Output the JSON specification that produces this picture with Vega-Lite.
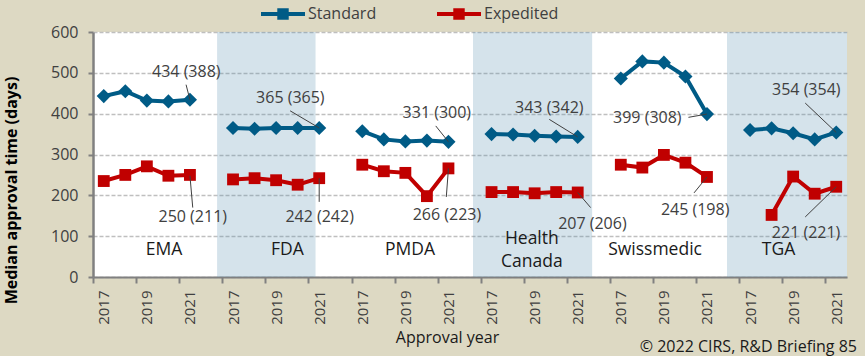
{
  "$schema": "https://vega.github.io/schema/vega-lite/v6.json",
  "width": 754,
  "height": 245,
  "autosize": {"type": "none"},
  "padding": {"left": 93, "top": 32, "right": 18, "bottom": 79},
  "background": "#DDD9C3",
  "config": {
    "view": {"fill": "white", "stroke": null},
    "font": "Open Sans",
    "text": {"font": "Open Sans"},
    "axis": {"labelOverlap": false},
    "axisX": {"labelOverlap": false},
    "axisQuantitative": {"labelOverlap": false}
  },
  "title": {
    "text": "© 2022 CIRS, R&D Briefing 85",
    "orient": "bottom",
    "anchor": "end",
    "frame": "group",
    "fontSize": 16,
    "fontWeight": "normal",
    "font": "Open Sans",
    "color": "#1a1a1a",
    "dx": 10,
    "dy": -10
  },
  "datasets": {
    "bands": [
      {"agency": "FDA", "x1": 6.26, "x2": 10.83},
      {"agency": "Health Canada", "x1": 18.14, "x2": 23.67},
      {"agency": "TGA", "x1": 29.93, "x2": 35.5}
    ],
    "main": [
      {"agency": "EMA", "year": 2017, "pos": 1, "series": "Standard", "value": 443},
      {"agency": "EMA", "year": 2018, "pos": 2, "series": "Standard", "value": 455},
      {"agency": "EMA", "year": 2019, "pos": 3, "series": "Standard", "value": 432},
      {"agency": "EMA", "year": 2020, "pos": 4, "series": "Standard", "value": 430},
      {"agency": "EMA", "year": 2021, "pos": 5, "series": "Standard", "value": 434},
      {"agency": "EMA", "year": 2017, "pos": 1, "series": "Expedited", "value": 235},
      {"agency": "EMA", "year": 2018, "pos": 2, "series": "Expedited", "value": 250},
      {"agency": "EMA", "year": 2019, "pos": 3, "series": "Expedited", "value": 271},
      {"agency": "EMA", "year": 2020, "pos": 4, "series": "Expedited", "value": 248},
      {"agency": "EMA", "year": 2021, "pos": 5, "series": "Expedited", "value": 250},
      {"agency": "FDA", "year": 2017, "pos": 7, "series": "Standard", "value": 365},
      {"agency": "FDA", "year": 2018, "pos": 8, "series": "Standard", "value": 363},
      {"agency": "FDA", "year": 2019, "pos": 9, "series": "Standard", "value": 365},
      {"agency": "FDA", "year": 2020, "pos": 10, "series": "Standard", "value": 365},
      {"agency": "FDA", "year": 2021, "pos": 11, "series": "Standard", "value": 365},
      {"agency": "FDA", "year": 2017, "pos": 7, "series": "Expedited", "value": 239},
      {"agency": "FDA", "year": 2018, "pos": 8, "series": "Expedited", "value": 242},
      {"agency": "FDA", "year": 2019, "pos": 9, "series": "Expedited", "value": 237},
      {"agency": "FDA", "year": 2020, "pos": 10, "series": "Expedited", "value": 226},
      {"agency": "FDA", "year": 2021, "pos": 11, "series": "Expedited", "value": 242},
      {"agency": "PMDA", "year": 2017, "pos": 13, "series": "Standard", "value": 357},
      {"agency": "PMDA", "year": 2018, "pos": 14, "series": "Standard", "value": 337},
      {"agency": "PMDA", "year": 2019, "pos": 15, "series": "Standard", "value": 332},
      {"agency": "PMDA", "year": 2020, "pos": 16, "series": "Standard", "value": 334},
      {"agency": "PMDA", "year": 2021, "pos": 17, "series": "Standard", "value": 331},
      {"agency": "PMDA", "year": 2017, "pos": 13, "series": "Expedited", "value": 275},
      {"agency": "PMDA", "year": 2018, "pos": 14, "series": "Expedited", "value": 259},
      {"agency": "PMDA", "year": 2019, "pos": 15, "series": "Expedited", "value": 255},
      {"agency": "PMDA", "year": 2020, "pos": 16, "series": "Expedited", "value": 198},
      {"agency": "PMDA", "year": 2021, "pos": 17, "series": "Expedited", "value": 266},
      {"agency": "Health Canada", "year": 2017, "pos": 19, "series": "Standard", "value": 350},
      {"agency": "Health Canada", "year": 2018, "pos": 20, "series": "Standard", "value": 349},
      {"agency": "Health Canada", "year": 2019, "pos": 21, "series": "Standard", "value": 346},
      {"agency": "Health Canada", "year": 2020, "pos": 22, "series": "Standard", "value": 344},
      {"agency": "Health Canada", "year": 2021, "pos": 23, "series": "Standard", "value": 343},
      {"agency": "Health Canada", "year": 2017, "pos": 19, "series": "Expedited", "value": 208},
      {"agency": "Health Canada", "year": 2018, "pos": 20, "series": "Expedited", "value": 208},
      {"agency": "Health Canada", "year": 2019, "pos": 21, "series": "Expedited", "value": 205},
      {"agency": "Health Canada", "year": 2020, "pos": 22, "series": "Expedited", "value": 208},
      {"agency": "Health Canada", "year": 2021, "pos": 23, "series": "Expedited", "value": 207},
      {"agency": "Swissmedic", "year": 2017, "pos": 25, "series": "Standard", "value": 486},
      {"agency": "Swissmedic", "year": 2018, "pos": 26, "series": "Standard", "value": 528},
      {"agency": "Swissmedic", "year": 2019, "pos": 27, "series": "Standard", "value": 525},
      {"agency": "Swissmedic", "year": 2020, "pos": 28, "series": "Standard", "value": 491},
      {"agency": "Swissmedic", "year": 2021, "pos": 29, "series": "Standard", "value": 399},
      {"agency": "Swissmedic", "year": 2017, "pos": 25, "series": "Expedited", "value": 275},
      {"agency": "Swissmedic", "year": 2018, "pos": 26, "series": "Expedited", "value": 268},
      {"agency": "Swissmedic", "year": 2019, "pos": 27, "series": "Expedited", "value": 299},
      {"agency": "Swissmedic", "year": 2020, "pos": 28, "series": "Expedited", "value": 280},
      {"agency": "Swissmedic", "year": 2021, "pos": 29, "series": "Expedited", "value": 245},
      {"agency": "TGA", "year": 2017, "pos": 31, "series": "Standard", "value": 360},
      {"agency": "TGA", "year": 2018, "pos": 32, "series": "Standard", "value": 364},
      {"agency": "TGA", "year": 2019, "pos": 33, "series": "Standard", "value": 352},
      {"agency": "TGA", "year": 2020, "pos": 34, "series": "Standard", "value": 337},
      {"agency": "TGA", "year": 2021, "pos": 35, "series": "Standard", "value": 354},
      {"agency": "TGA", "year": 2018, "pos": 32, "series": "Expedited", "value": 152},
      {"agency": "TGA", "year": 2019, "pos": 33, "series": "Expedited", "value": 246},
      {"agency": "TGA", "year": 2020, "pos": 34, "series": "Expedited", "value": 204},
      {"agency": "TGA", "year": 2021, "pos": 35, "series": "Expedited", "value": 221}
    ],
    "notes": [
      {"label": "434 (388)", "tx": 4.83, "ty": 503, "lx1": 4.82, "ly1": 471, "lx2": 5.0, "ly2": 434},
      {"label": "250 (211)", "tx": 5.13, "ty": 147, "lx1": 5.0, "ly1": 248, "lx2": 5.13, "ly2": 170},
      {"label": "365 (365)", "tx": 9.66, "ty": 438, "lx1": 9.65, "ly1": 407, "lx2": 11.0, "ly2": 365},
      {"label": "242 (242)", "tx": 11.02, "ty": 147, "lx1": 11.0, "ly1": 242, "lx2": 11.0, "ly2": 184},
      {"label": "331 (300)", "tx": 16.46, "ty": 401, "lx1": 16.41, "ly1": 370, "lx2": 17.0, "ly2": 331},
      {"label": "266 (223)", "tx": 16.93, "ty": 153, "lx1": 17.0, "ly1": 266, "lx2": 16.9, "ly2": 196},
      {"label": "343 (342)", "tx": 21.68, "ty": 415, "lx1": 21.68, "ly1": 386, "lx2": 23.0, "ly2": 343},
      {"label": "207 (206)", "tx": 23.68, "ty": 131, "lx1": 23.0, "ly1": 207, "lx2": 23.6, "ly2": 170},
      {"label": "399 (308)", "tx": 26.23, "ty": 389, "lx1": 28.14, "ly1": 391, "lx2": 29.0, "ly2": 399},
      {"label": "245 (198)", "tx": 28.45, "ty": 165, "lx1": 28.4, "ly1": 206, "lx2": 29.0, "ly2": 245},
      {"label": "354 (354)", "tx": 33.61, "ty": 457, "lx1": 33.56, "ly1": 426, "lx2": 35.0, "ly2": 354},
      {"label": "221 (221)", "tx": 33.6, "ty": 107, "lx1": 33.56, "ly1": 147, "lx2": 35.0, "ly2": 221}
    ],
    "panels": [
      {"name": "EMA", "px": 3.8, "py": 65.5},
      {"name": "FDA", "px": 9.52, "py": 65.5},
      {"name": "PMDA", "px": 15.22, "py": 65.5},
      {"name": "Health", "px": 20.87, "py": 94},
      {"name": "Canada", "px": 20.87, "py": 37},
      {"name": "Swissmedic", "px": 26.59, "py": 65.5},
      {"name": "TGA", "px": 32.32, "py": 65.5}
    ]
  },
  "layer": [
    {
      "data": {"name": "bands"},
      "mark": {"type": "rect", "fill": "#578FAF", "opacity": 0.25},
      "encoding": {
        "x": {
          "field": "x1",
          "type": "quantitative",
          "scale": {"domain": [0.5, 35.5], "nice": false, "zero": false},
          "axis": {
            "values": [0.5,1.5,2.5,3.5,4.5,5.5,6.5,7.5,8.5,9.5,10.5,11.5,12.5,13.5,14.5,15.5,16.5,17.5,18.5,19.5,20.5,21.5,22.5,23.5,24.5,25.5,26.5,27.5,28.5,29.5,30.5,31.5,32.5,33.5,34.5,35.5],
            "labelExpr": "((datum.value + 0.5) - 6 * floor((datum.value - 0.5) / 6) < 6 && datum.value < 35) ? toString(2016 + (datum.value + 0.5) - 6 * floor((datum.value - 0.5) / 6)) : ''",
            "labelOffset": 10.77,
            "labelAngle": 270,
            "labelAlign": "right",
            "labelBaseline": "middle",
            "labelFontSize": 15,
            "labelColor": "#404040",
            "labelPadding": 7,
            "labelOverlap": false,
            "labelFlush": false,
            "domainColor": "#808080",
            "domainWidth": 2,
            "tickColor": "#808080",
            "tickWidth": 2,
            "tickSize": 6,
            "grid": false,
            "title": "Approval year",
            "titleFontSize": 16,
            "titleFontWeight": "normal",
            "titleColor": "#1a1a1a",
            "titleX": 354,
            "titleY": 60,
            "titleBaseline": "middle"
          }
        },
        "x2": {"field": "x2"}
      }
    },
    {
      "data": {"name": "main"},
      "encoding": {
        "x": {"field": "pos", "type": "quantitative"},
        "y": {
          "field": "value",
          "type": "quantitative",
          "scale": {"domain": [0, 600], "nice": false},
          "axis": {
            "values": [0, 100, 200, 300, 400, 500, 600],
            "grid": true,
            "gridDash": [4, 2],
            "gridColor": "#BFBFBF",
            "gridWidth": 1.3,
            "domainColor": "#808080",
            "domainWidth": 2.5,
            "tickColor": "#808080",
            "tickWidth": 2,
            "tickSize": 5,
            "labelFontSize": 16,
            "labelColor": "#404040",
            "labelPadding": 10,
            "title": "Median approval time (days)",
            "titleFontSize": 16,
            "titleFontWeight": "bold",
            "titleColor": "#000000",
            "titleX": -82,
            "titleY": 158,
            "titleAlign": "center",
            "titleBaseline": "middle"
          }
        },
        "color": {
          "field": "series",
          "type": "nominal",
          "scale": {"domain": ["Standard", "Expedited"], "range": ["#005B86", "#C00000"]},
          "legend": {
            "orient": "none",
            "legendX": 168,
            "legendY": -40,
            "direction": "horizontal",
            "title": null,
            "labelFontSize": 16,
            "labelColor": "#404040",
            "labelFont": "Open Sans",
            "symbolSize": 1936,
            "labelOffset": 3,
            "columnPadding": 60,
            "encode": {
              "symbols": {
                "update": {
                  "shape": {"condition": {"test": "datum.value === 'Standard'", "value": "M-1,-0.09L1,-0.09L1,0.09L-1,0.09ZM0,-0.34L0.34,0L0,0.34L-0.34,0Z"}, "value": "M-1,-0.09L1,-0.09L1,0.09L-1,0.09ZM-0.26,-0.26L0.26,-0.26L0.26,0.26L-0.26,0.26Z"},
                  "fill": {"condition": {"test": "datum.value === 'Standard'", "value": "#005B86"}, "value": "#C00000"},
                  "stroke": {"value": "transparent"},
                  "strokeWidth": {"value": 0},
                  "opacity": {"value": 1},
                  "size": {"value": 1936}
                }
              }
            }
          }
        },
        "detail": {"field": "agency"}
      },
      "layer": [
        {"mark": {"type": "line", "strokeWidth": 4}},
        {
          "transform": [{"filter": "datum.series === 'Standard'"}],
          "mark": {"type": "point", "filled": true, "opacity": 1, "shape": "diamond", "size": 200}
        },
        {
          "transform": [{"filter": "datum.series === 'Expedited'"}],
          "mark": {"type": "point", "filled": true, "opacity": 1, "shape": "square", "size": 140}
        }
      ]
    },
    {
      "data": {"name": "notes"},
      "mark": {"type": "rule", "color": "#404040", "strokeWidth": 1},
      "encoding": {
        "x": {"field": "lx1", "type": "quantitative"},
        "x2": {"field": "lx2"},
        "y": {"field": "ly1", "type": "quantitative"},
        "y2": {"field": "ly2"}
      }
    },
    {
      "data": {"name": "notes"},
      "mark": {"type": "text", "fontSize": 16, "color": "#404040", "align": "center", "baseline": "middle"},
      "encoding": {
        "x": {"field": "tx", "type": "quantitative"},
        "y": {"field": "ty", "type": "quantitative"},
        "text": {"field": "label"}
      }
    },
    {
      "data": {"name": "panels"},
      "mark": {"type": "text", "fontSize": 17.5, "color": "#1a1a1a", "align": "center", "baseline": "middle"},
      "encoding": {
        "x": {"field": "px", "type": "quantitative"},
        "y": {"field": "py", "type": "quantitative"},
        "text": {"field": "name"}
      }
    }
  ]
}
